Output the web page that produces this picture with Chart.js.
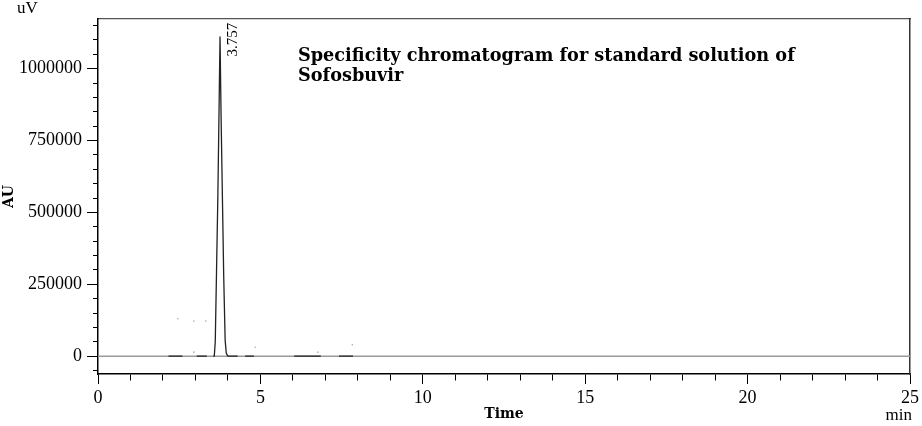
<!DOCTYPE html>
<html>
<head>
<meta charset="utf-8">
<script src="https://cdn.jsdelivr.net/npm/chart.js@4/dist/chart.umd.min.js"></script>
<style>
  html, body { margin: 0; padding: 0; background: #fff; }
  #wrap { width: 922px; height: 426px; position: relative; }
</style>
</head>
<body>
<div id="wrap"><canvas id="chart"></canvas></div>
<script>
// chromatogram trace (min, uV) - null = gap where only the grey baseline shows
const traceTime = [2.17, 2.6, 2.61, 3.04, 3.35, 3.36, 3.55, 3.58, 3.61, 3.65, 3.69, 3.72, 3.757, 3.79, 3.83, 3.87, 3.915, 3.95, 4.0, 4.3, 4.31, 4.53, 4.8, 4.81, 6.04, 6.86, 6.87, 7.42, 7.85];
const traceValue = [0, 0, null, 0, 0, null, 0, 0, 50000, 300000, 555000, 800000, 1112000, 830000, 555000, 280000, 55000, 10000, 0, 0, null, 0, 0, null, 0, 0, null, 0, 0];

// stray noise dots near the baseline
const noiseTime = [2.46, 2.95, 2.95, 3.32, 4.84, 6.77, 7.83];
const noiseValue = [130000, 122000, 14000, 122000, 31000, 14000, 40000];

const baseTime = [0, 25];
const baseValue = [0, 0];

const peakTime = 3.757;
const peakValue = 1112000;
const peakLabel = '3.757';

const xTickLabels = [0, 5, 10, 15, 20, 25];
const yTickLabels = [0, 250000, 500000, 750000, 1000000];
const titleLines = ['Specificity chromatogram for standard solution of', 'Sofosbuvir'];

const serif = '"Liberation Serif", "Times New Roman", serif';

const toPoints = (xs, ys) => xs.map((t, i) => ({ x: t, y: ys[i] }));

// ticks every `step` inside the axis range (major = labelled, minor = short)
const stepTicks = (step) => (s) => {
  const t = [];
  for (let v = Math.ceil(s.min / step) * step; v <= s.max + 1e-9; v += step) t.push({ value: v });
  s.ticks = t;
};

const annot = {
  id: 'annot',
  afterDraw(chart) {
    const { ctx, scales: { x, y } } = chart;
    ctx.save();
    ctx.fillStyle = '#000';
    ctx.textBaseline = 'middle';
    ctx.font = '17px ' + serif;
    ctx.textAlign = 'left';
    ctx.fillText('uV', 17, 9);
    ctx.textAlign = 'right';
    ctx.fillText('min', 912, 416);

    // retention time label, rotated, next to the peak apex
    ctx.save();
    ctx.translate(x.getPixelForValue(peakTime) + 13, y.getPixelForValue(peakValue) + 20);
    ctx.rotate(-Math.PI / 2);
    ctx.textAlign = 'left';
    ctx.font = '15px ' + serif;
    ctx.fillText(peakLabel, 0, 0);
    ctx.restore();

    // title inside the plot
    ctx.textAlign = 'left';
    ctx.textBaseline = 'alphabetic';
    ctx.font = 'bold 16px "DejaVu Serif"';
    const w = ctx.measureText(titleLines[0]).width;
    const size = 16 * 497 / w;
    ctx.font = 'bold ' + size.toFixed(2) + 'px "DejaVu Serif"';
    ctx.fillText(titleLines[0], 298, 61);
    ctx.fillText(titleLines[1], 298, 81);
    ctx.restore();
  }
};

new Chart(document.getElementById('chart'), {
  type: 'scatter',
  data: {
    datasets: [
      {
        label: 'signal',
        data: toPoints(traceTime, traceValue),
        showLine: true,
        spanGaps: false,
        borderColor: '#222',
        borderWidth: 1.3,
        pointRadius: 0,
        order: 0
      },
      {
        label: 'noise',
        data: toPoints(noiseTime, noiseValue),
        showLine: false,
        pointRadius: 0.8,
        pointBorderWidth: 0,
        backgroundColor: '#aaa',
        order: 1
      },
      {
        label: 'baseline',
        data: toPoints(baseTime, baseValue),
        showLine: true,
        borderColor: '#9a9a9a',
        borderWidth: 1.5,
        pointRadius: 0,
        order: 2
      }
    ]
  },
  options: {
    responsive: true,
    maintainAspectRatio: false,
    animation: false,
    layout: { padding: { top: 19, right: 11, left: 0, bottom: 0 } },
    plugins: { legend: { display: false }, tooltip: { enabled: false } },
    scales: {
      x: {
        type: 'linear',
        position: 'bottom',
        min: 0,
        max: 25,
        afterBuildTicks: stepTicks(1),
        afterFit: (s) => { s.height = 52; },
        border: { color: '#000', width: 1.5 },
        grid: {
          drawOnChartArea: false,
          tickLength: 10,
          tickColor: '#000',
          tickWidth: 1,
          tickBorderDash: (c) => xTickLabels.includes(c.tick.value) ? [] : [6, 20]
        },
        ticks: {
          autoSkip: false,
          maxRotation: 0,
          padding: 3,
          color: '#000',
          font: { family: serif, size: 18 },
          callback: (v) => xTickLabels.includes(v) ? String(v) : ''
        },
        title: {
          display: true,
          text: 'Time',
          color: '#000',
          font: { family: '"DejaVu Serif"', weight: 'bold', size: 14 },
          padding: { top: 0, bottom: 3 }
        }
      },
      x2: {
        type: 'linear',
        position: 'top',
        min: 0,
        max: 25,
        afterFit: (s) => { s.height = 0; },
        border: { color: '#555', width: 1.2 },
        grid: { display: false },
        ticks: { display: false }
      },
      y: {
        type: 'linear',
        position: 'left',
        min: -62000,
        max: 1173000,
        afterBuildTicks: stepTicks(50000),
        afterFit: (s) => { s.width = 98; },
        border: { color: '#000', width: 1.5 },
        grid: {
          drawOnChartArea: false,
          tickLength: 11,
          tickColor: '#000',
          tickWidth: 1,
          tickBorderDash: (c) => yTickLabels.includes(c.tick.value) ? [] : [6, 6],
          tickBorderDashOffset: (c) => yTickLabels.includes(c.tick.value) ? 0 : 6
        },
        ticks: {
          autoSkip: false,
          padding: 5,
          color: '#000',
          font: { family: serif, size: 18 },
          callback: (v) => yTickLabels.includes(v) ? String(v) : ''
        },
        title: {
          display: true,
          text: 'AU',
          color: '#000',
          font: { family: '"DejaVu Serif"', weight: 'bold', size: 14 },
          padding: { top: 1, bottom: 0 }
        }
      },
      y2: {
        type: 'linear',
        position: 'right',
        min: -62000,
        max: 1173000,
        afterFit: (s) => { s.width = 0; },
        border: { color: '#333', width: 1.5 },
        grid: { display: false },
        ticks: { display: false }
      }
    }
  },
  plugins: [annot]
});
</script>
</body>
</html>
